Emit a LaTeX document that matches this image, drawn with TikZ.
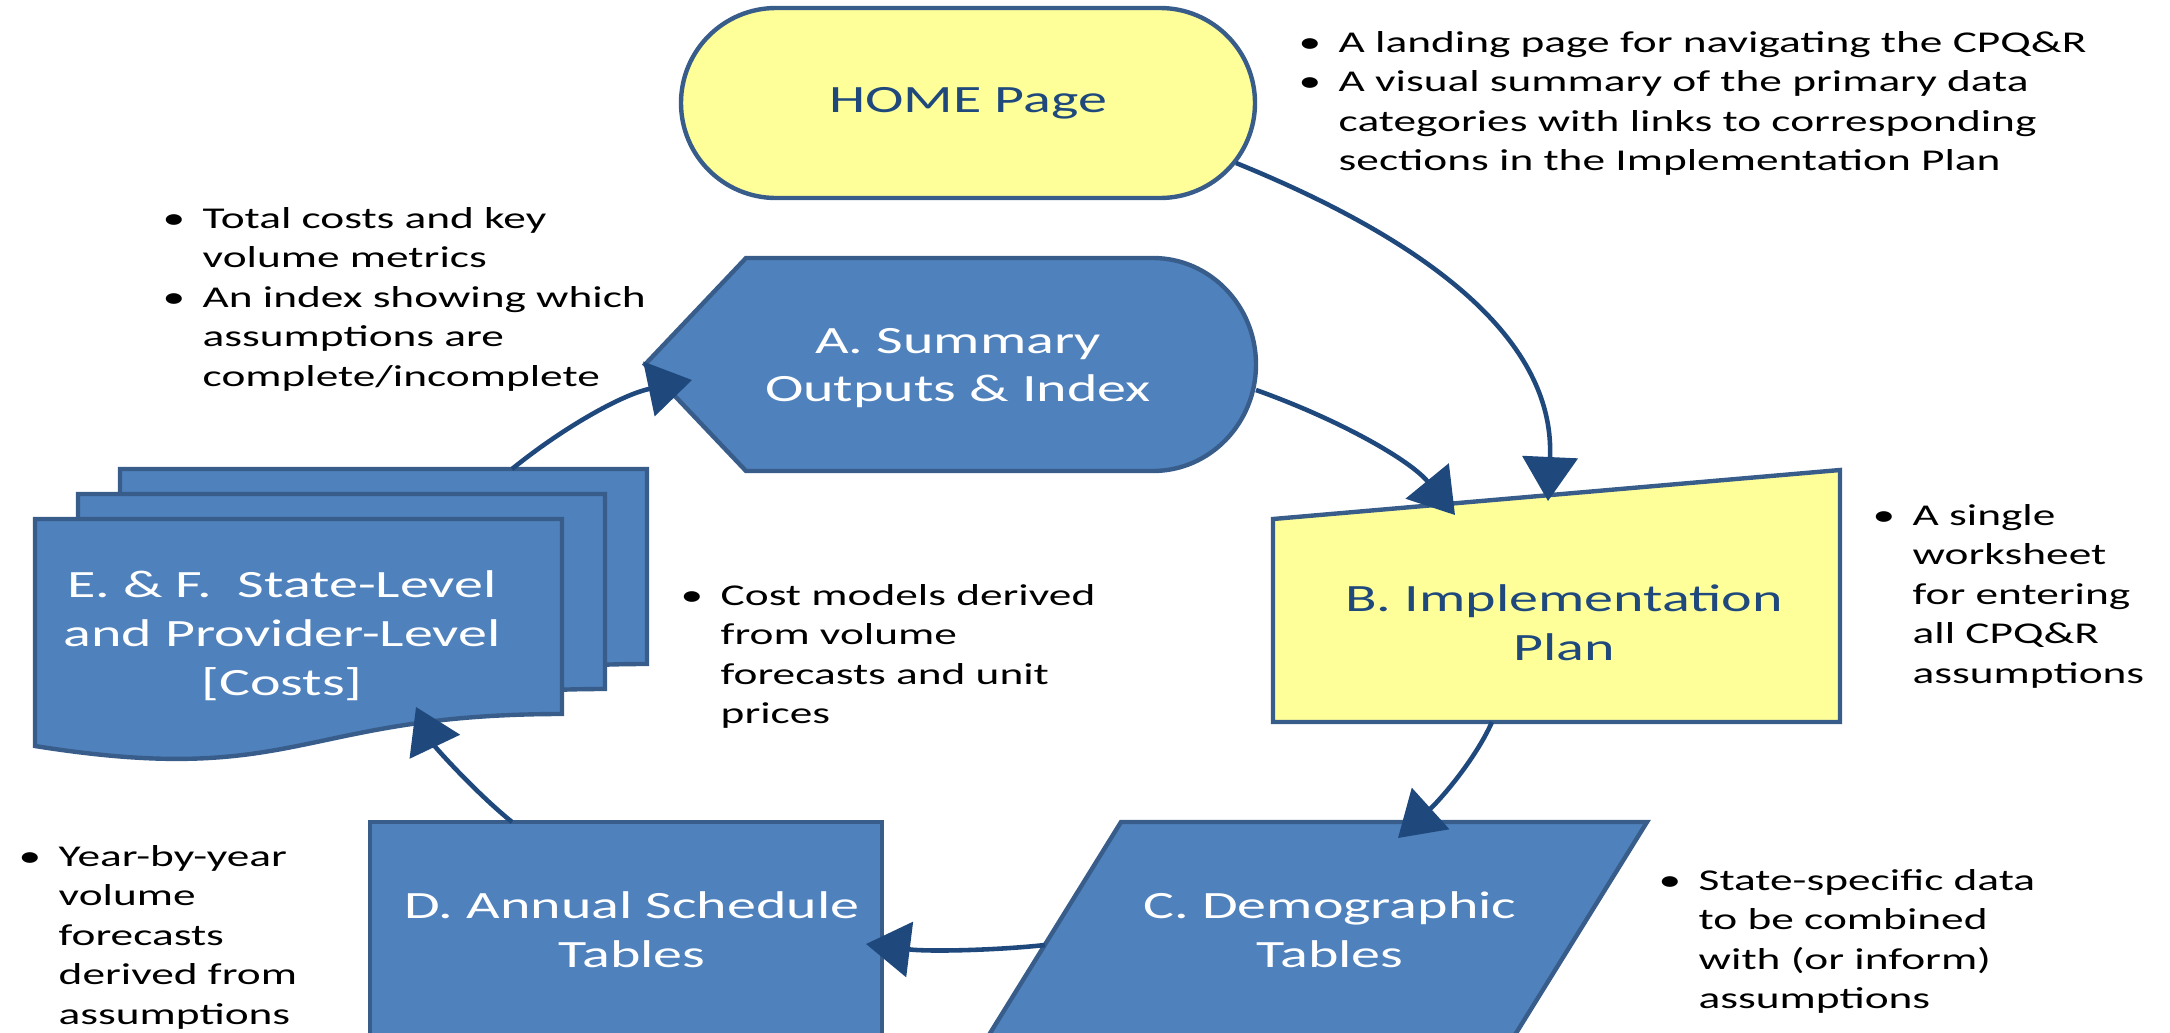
\documentclass[tikz,border=0pt]{standalone}
\usepackage{fontspec}
\setmainfont{Carlito}[FakeStretch=1.5]
\usetikzlibrary{arrows.meta}

\definecolor{boxblue}{RGB}{79,129,189}
\definecolor{edgeblue}{RGB}{56,93,138}
\definecolor{arrowblue}{RGB}{31,73,125}
\definecolor{paleyellow}{RGB}{255,255,153}

\newcommand{\bu}{\makebox[0.40cm][l]{\textbullet}}
\newcommand{\bi}{\hspace*{0.40cm}}
\newcommand{\docpage}[1]{\draw[bluebox, shift={#1}] (0,0) -- (5.27,0) -- (5.27,-1.95)
    .. controls (2.635,-1.95) and (2.635,-2.69) .. (0,-2.27) -- cycle;}

\begin{document}
\begin{tikzpicture}[
        bluebox/.style = {draw=edgeblue, line width=1.25pt, fill=boxblue},
        yellowbox/.style = {draw=edgeblue, line width=1.25pt, fill=paleyellow},
        boxtext/.style = {align=center, font=\fontsize{11}{13.9}\selectfont},
        notes/.style = {align=left, anchor=base west, inner sep=0pt,
            font=\fontsize{8.6}{11.2}\selectfont},
        flow/.style = {draw=arrowblue, line width=1.3pt,
            -{Triangle[length=4.4mm,width=5.5mm]}},
        ]

        \useasboundingbox (0,0) rectangle (21.7,10.32);
        \clip (0,0) rectangle (21.7,10.32);

        % Home page
        \node[yellowbox, boxtext, text=arrowblue, minimum width=5.74cm,
            minimum height=1.9cm, rounded corners=0.95cm] (home) at (9.68,9.29) {HOME Page};

        % A. Summary
        \draw[bluebox] (6.45,6.675) -- (7.46,7.74) -- (11.53,7.74)
            arc[start angle=90, end angle=-90, x radius=1.03, y radius=1.065]
            -- (7.46,5.61) -- cycle;
        \node[boxtext, text=white] (summary) at (9.58,6.64) {A. Summary\\Outputs \& Index};

        % B. Implementation plan
        \draw[yellowbox] (12.73,5.13) -- (18.40,5.62) -- (18.40,3.10) -- (12.73,3.10) -- cycle;
        \node[boxtext, text=arrowblue] (plan) at (15.64,4.09) {B. Implementation\\Plan};

        % C. Demographic tables
        \draw[bluebox] (11.21,2.10) -- (16.47,2.10) -- (14.87,-0.48) -- (9.61,-0.48) -- cycle;
        \node[boxtext, text=white] (demo) at (13.30,1.02) {C. Demographic\\Tables};

        % D. Annual schedule
        \draw[bluebox] (3.70,2.10) rectangle (8.82,-0.48);
        \node[boxtext, text=white] (annual) at (6.32,1.02) {D. Annual Schedule\\Tables};

        % E. & F. cost pages
        \docpage{(1.20,5.63)}
        \docpage{(0.78,5.38)}
        \docpage{(0.35,5.13)}
        \node[boxtext, text=white] (costs) at (2.82,3.96)
            {E. \& F.\ \ State-Level\\and Provider-Level\\{[Costs]}};

        % Connector ends
        \coordinate (homeout) at (12.36,8.69);
        \coordinate (planinA) at (15.48,5.31);
        \coordinate (summaryout) at (12.56,6.42);
        \coordinate (planinB) at (14.55,5.17);
        \coordinate (planout) at (14.92,3.10);
        \coordinate (demoin) at (13.98,1.94);
        \coordinate (demoout) at (10.45,0.87);
        \coordinate (annualin) at (8.66,0.88);
        \coordinate (annualout) at (5.12,2.10);
        \coordinate (costsin) at (4.16,3.25);
        \coordinate (costsout) at (5.12,5.63);
        \coordinate (summaryin) at (6.92,6.52);

        % Connectors
        \draw[flow] (homeout) .. controls (14.50,7.82) and (15.55,6.82) .. (planinA);
        \draw[flow] (summaryout) .. controls (13.40,6.12) and (14.10,5.72) .. (planinB);
        \draw[flow] (planout) .. controls (14.75,2.72) and (14.40,2.32) .. (demoin);
        \draw[flow] (demoout) .. controls (10.00,0.82) and (9.30,0.80) .. (annualin);
        \draw[flow] (annualout) .. controls (4.75,2.40) and (4.35,2.85) .. (costsin);
        \draw[flow] (costsout) .. controls (5.60,6.02) and (6.20,6.37) .. (summaryin);

        % Notes (placed by the baseline of their last line)
        \node[notes] (homenote) at (12.98,8.615)
            {\bu A landing page for navigating the CPQ\&R\\
             \bu A visual summary of the primary data\\
             \bi categories with links to corresponding\\
             \bi sections in the Implementation Plan};
        \node[notes] (summarynote) at (1.62,6.46)
            {\bu Total costs and key\\
             \bi volume metrics\\
             \bu An index showing which\\
             \bi assumptions are\\
             \bi complete/incomplete};
        \node[notes] (costsnote) at (6.80,3.085)
            {\bu Cost models derived\\
             \bi from volume\\
             \bi forecasts and unit\\
             \bi prices};
        \node[notes] (plannote) at (18.72,3.49)
            {\bu A single\\
             \bi worksheet\\
             \bi for entering\\
             \bi all CPQ\&R\\
             \bi assumptions};
        \node[notes] (demonote) at (16.58,0.235)
            {\bu State-specific data\\
             \bi to be combined\\
             \bi with (or inform)\\
             \bi assumptions};
        \node[notes] (annualnote) at (0.18,0.08)
            {\bu Year-by-year\\
             \bi volume\\
             \bi forecasts\\
             \bi derived from\\
             \bi assumptions};
    \end{tikzpicture}
\end{document}
